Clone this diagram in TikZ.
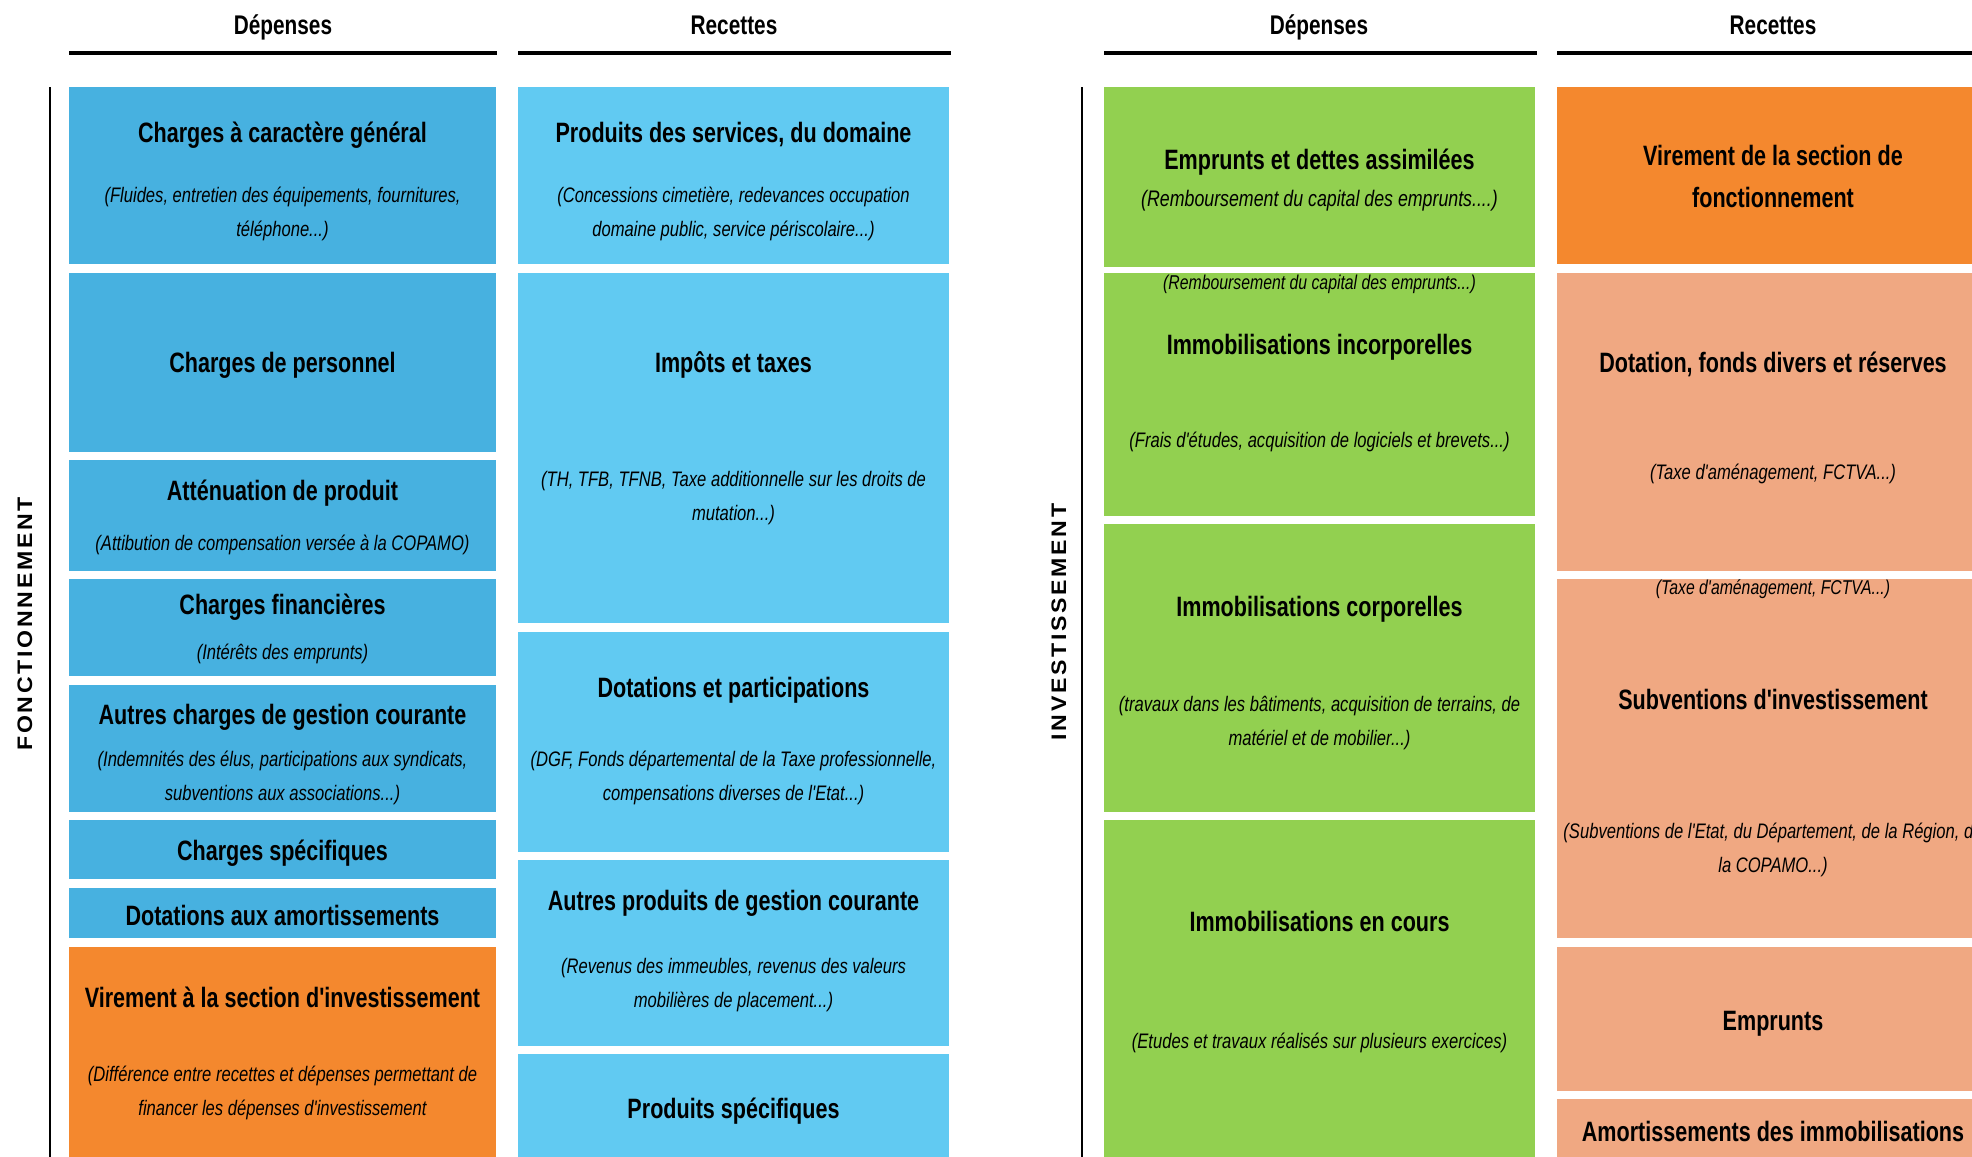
\documentclass[tikz,border=0pt]{standalone}
\usepackage{fontspec}
\setmainfont{Liberation Sans}
\newfontfamily\nf[FakeStretch=0.77]{Liberation Sans}
\newfontfamily\subfnt[FakeStretch=0.79]{Liberation Sans}
\newfontfamily\sidefont[FakeStretch=1.1,LetterSpace=13]{Liberation Sans}
\definecolor{blueL}{HTML}{47B1E0}
\definecolor{blueM}{HTML}{61CAF2}
\definecolor{greenD}{HTML}{92D050}
\definecolor{orangeV}{HTML}{F4882E}
\definecolor{salmonR}{HTML}{F0A882}
\newcommand\mybox[6]{%
  \pgfmathsetmacro\bw{#5-#3}\pgfmathsetmacro\bh{#6-#4}%
  \node[cell, fill=#2, minimum width=\bw pt, minimum height=\bh pt] (#1) at (#3,#4) {};}
\begin{document}
\begin{tikzpicture}[x=1pt,y=-1pt,
  cell/.style={anchor=north west, inner sep=0pt, outer sep=0pt, draw=none},
  ttl/.style={font=\nf\bfseries\fontsize{28}{42}\selectfont, align=center, inner sep=0pt, yshift=-2pt},
  ttlb/.style={font=\nf\bfseries\fontsize{28}{42}\selectfont, align=center, inner sep=0pt},
  sub/.style={font=\subfnt\itshape\fontsize{21}{34}\selectfont, align=center, inner sep=0pt, yshift=-1pt},
  subbig/.style={font=\subfnt\itshape\fontsize{22.5}{34}\selectfont, align=center, inner sep=0pt, yshift=-1pt},
  smalltxt/.style={font=\subfnt\itshape\fontsize{20}{22}\selectfont, inner sep=0pt},
  head/.style={font=\nf\bfseries\fontsize{27}{30}\selectfont, inner sep=0pt, anchor=base},
  side/.style={font=\sidefont\bfseries\fontsize{21}{24}\selectfont, rotate=90, inner sep=0pt},
  hline/.style={line width=4pt},
  vline/.style={line width=2.5pt}]
\useasboundingbox (0,0) rectangle (1972,1156);
\clip (0,0) rectangle (1972,1156);
\fill[white] (0,0) rectangle (1972,1156);

% headers
\node[head] (hLD) at (283,35) {Dépenses};
\node[head] (hLR) at (734,35) {Recettes};
\node[head] (hRD) at (1319,35) {Dépenses};
\node[head] (hRR) at (1773,35) {Recettes};
\coordinate (a1) at (69,53); \coordinate (a2) at (497,53);
\coordinate (b1) at (518,53); \coordinate (b2) at (951,53);
\coordinate (c1) at (1104,53); \coordinate (c2) at (1537,53);
\coordinate (d1) at (1557,53); \coordinate (d2) at (1990,53);
\draw[hline] (a1) -- (a2);
\draw[hline] (b1) -- (b2);
\draw[hline] (c1) -- (c2);
\draw[hline] (d1) -- (d2);

% vertical lines and side labels
\coordinate (v1) at (50,87); \coordinate (v2) at (50,1160);
\coordinate (w1) at (1082,87); \coordinate (w2) at (1082,1160);
\draw[vline] (v1) -- (v2);
\draw[vline] (w1) -- (w2);
\node[side] (sF) at (25,624) {FONCTIONNEMENT};
\node[side] (sI) at (1059,622) {INVESTISSEMENT};

% left column : depenses fonctionnement
\mybox{L1}{blueL}{69}{87}{496}{264}
\mybox{L2}{blueL}{69}{273}{496}{452}
\mybox{L3}{blueL}{69}{460}{496}{571}
\mybox{L4}{blueL}{69}{579}{496}{676}
\mybox{L5}{blueL}{69}{685}{496}{812}
\mybox{L6}{blueL}{69}{820}{496}{879}
\mybox{L7}{blueL}{69}{888}{496}{938}
\mybox{L8}{orangeV}{69}{947}{496}{1160}

\node[ttl] (L1t) at (282.5,133) {Charges à caractère général};
\node[sub] (L1s) at (282.5,213) {(Fluides, entretien des équipements, fournitures,\\téléphone...)};
\node[ttl] (L2t) at (282.5,363) {Charges de personnel};
\node[ttl] (L3t) at (282.5,491) {Atténuation de produit};
\node[sub] (L3s) at (282.5,544) {(Attibution de compensation versée à la COPAMO)};
\node[ttl] (L4t) at (282.5,605) {Charges financières};
\node[sub] (L4s) at (282.5,653) {(Intérêts des emprunts)};
\node[ttl] (L5t) at (282.5,715) {Autres charges de gestion courante};
\node[sub] (L5s) at (282.5,776.5) {(Indemnités des élus, participations aux syndicats,\\subventions aux associations...)};
\node[ttl] (L6t) at (282.5,851) {Charges spécifiques};
\node[ttlb] (L7t) at (282.5,915) {Dotations aux amortissements};
\node[ttlb] (L8t) at (282.5,997) {Virement à la section d'investissement};
\node[sub] (L8s) at (282.5,1091.5) {(Différence entre recettes et dépenses permettant de\\financer les dépenses d'investissement};

% middle column : recettes fonctionnement
\mybox{M1}{blueM}{518}{87}{949}{264}
\mybox{M2}{blueM}{518}{273}{949}{623}
\mybox{M3}{blueM}{518}{632}{949}{852}
\mybox{M4}{blueM}{518}{860}{949}{1046}
\mybox{M5}{blueM}{518}{1054}{949}{1160}

\node[ttl] (M1t) at (733.5,133) {Produits des services, du domaine};
\node[sub] (M1s) at (733.5,213) {(Concessions cimetière, redevances occupation\\domaine public, service périscolaire...)};
\node[ttl] (M2t) at (733.5,363) {Impôts et taxes};
\node[sub] (M2s) at (733.5,497.5) {(TH, TFB, TFNB, Taxe additionnelle sur les droits de\\mutation...)};
\node[ttl] (M3t) at (733.5,688) {Dotations et participations};
\node[sub] (M3s) at (733.5,776.5) {(DGF, Fonds départemental de la Taxe professionnelle,\\compensations diverses de l'Etat...)};
\node[ttl] (M4t) at (733.5,901) {Autres produits de gestion courante};
\node[sub] (M4s) at (733.5,984.5) {(Revenus des immeubles, revenus des valeurs\\mobilières de placement...)};
\node[ttl] (M5t) at (733.5,1109) {Produits spécifiques};

% right depenses : investissement
\mybox{D1}{greenD}{1104}{87}{1535}{267}
\mybox{D2}{greenD}{1104}{273}{1535}{516}
\mybox{D3}{greenD}{1104}{524}{1535}{812}
\mybox{D4}{greenD}{1104}{820}{1535}{1160}

\node[ttl] (D1t) at (1319.5,160) {Emprunts et dettes assimilées};
\node[subbig] (D1s) at (1319.5,200) {(Remboursement du capital des emprunts....)};
\node[smalltxt] (D2a) at (1319.5,284) {(Remboursement du capital des emprunts...)};
\node[ttl] (D2t) at (1319.5,345) {Immobilisations incorporelles};
\node[sub] (D2s) at (1319.5,441) {(Frais d'études, acquisition de logiciels et brevets...)};
\node[ttl] (D3t) at (1319.5,607) {Immobilisations corporelles};
\node[sub] (D3s) at (1319.5,722.5) {(travaux dans les bâtiments, acquisition de terrains, de\\matériel et de mobilier...)};
\node[ttlb] (D4t) at (1319.5,921) {Immobilisations en cours};
\node[sub] (D4s) at (1319.5,1042) {(Etudes et travaux réalisés sur plusieurs exercices)};

% right recettes : investissement
\mybox{R1}{orangeV}{1557}{87}{1990}{264}
\mybox{R2}{salmonR}{1557}{273}{1990}{571}
\mybox{R3}{salmonR}{1557}{579}{1990}{938}
\mybox{R4}{salmonR}{1557}{947}{1990}{1091}
\mybox{R5}{salmonR}{1557}{1099}{1990}{1160}

\node[ttlb] (R1t) at (1773,176) {Virement de la section de\\fonctionnement};
\node[ttl] (R2t) at (1773,362) {Dotation, fonds divers et réserves};
\node[sub] (R2s) at (1773,473) {(Taxe d'aménagement, FCTVA...)};
\node[smalltxt] (R3a) at (1773,589) {(Taxe d'aménagement, FCTVA...)};
\node[ttl] (R3t) at (1773,697) {Subventions d'investissement};
\node[sub] (R3s) at (1773,849) {(Subventions de l'Etat, du Département, de la Région, de\\la COPAMO...)};
\node[ttl] (R4t) at (1773,1022) {Emprunts};
\node[ttlb] (R5t) at (1773,1131) {Amortissements des immobilisations};
\end{tikzpicture}
\end{document}
